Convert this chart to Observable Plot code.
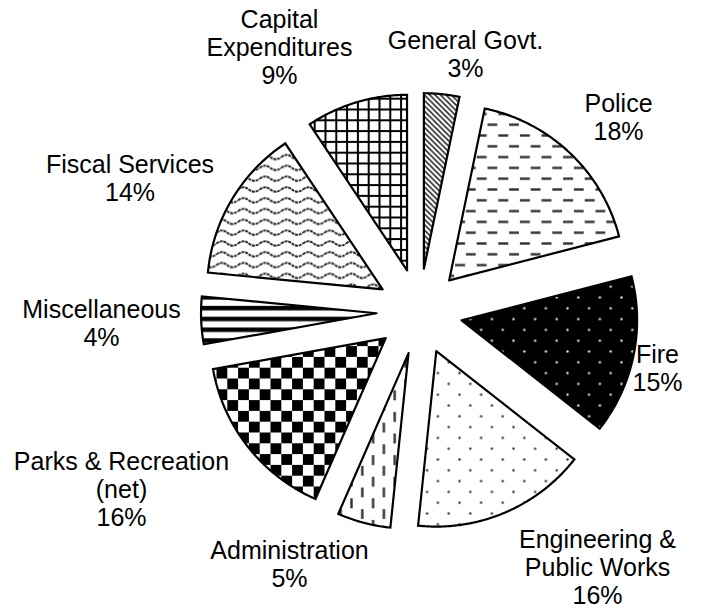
<!DOCTYPE html>
<html><head><meta charset="utf-8">
<script src="https://cdn.jsdelivr.net/npm/d3@7"></script>
<script src="https://cdn.jsdelivr.net/npm/@observablehq/plot@0.6"></script>
<style>html,body{margin:0;padding:0;background:#fff;} #chart{width:702px;height:608px;}</style>
</head><body><div id="chart"></div>
<script>
// ---- data ----
const categories = ["General Govt.", "Police", "Fire", "Engineering & Public Works", "Administration",
  "Parks & Recreation (net)", "Miscellaneous", "Fiscal Services", "Capital Expenditures"];
const shares = [3.25, 17.7, 14.6, 16.05, 4.9, 15.6, 4.35, 14.1, 9.35];
const labelLines = ["General Govt.", "Police", "Fire", "Engineering &\nPublic Works", "Administration",
  "Parks & Recreation\n(net)", "Miscellaneous", "Fiscal Services", "Capital\nExpenditures"];
const percentLabels = ["3%", "18%", "15%", "16%", "5%", "16%", "4%", "14%", "9%"];
const patternNames = ["diag", "hdash", "darkdots", "dots", "vdash", "checker", "hstripe", "wave", "grid"];

// ---- layout ----
const W = 702, H = 608, CX = 419, CY = 311, R = 175.5, EXPLODE = 43;
// label block centre offsets from pie centre (px, screen-down)
const labelOffset = [[46, -257], [199, -194], [238, 57], [178, 256], [-130, 253],
  [-298, 178], [-318, 12], [-289.5, -133], [-140, -264]];

const pie = d3.pie().sort(null).value(d => d)(shares);

const slices = pie.map((p, i) => {
  const mid = (p.startAngle + p.endAngle) / 2;
  const ox = EXPLODE * Math.sin(mid), oy = EXPLODE * Math.cos(mid);
  const n = Math.max(8, Math.ceil((p.endAngle - p.startAngle) * 180 / Math.PI * 2));
  const pts = [{x: ox, y: oy}];
  for (let k = 0; k <= n; k++) {
    const a = p.startAngle + (p.endAngle - p.startAngle) * k / n;
    pts.push({x: ox + R * Math.sin(a), y: oy + R * Math.cos(a)});
  }
  pts.push({x: ox, y: oy});
  return {name: categories[i], pattern: patternNames[i], pts};
});

const labels = categories.map((c, i) => ({
  text: labelLines[i] + "\n" + percentLabels[i],
  x: labelOffset[i][0],
  y: -labelOffset[i][1]
}));

const svg = Plot.plot({
  width: W, height: H, margin: 0,
  x: {domain: [-CX, W - CX], axis: null},
  y: {domain: [-(H - CY), CY], axis: null},
  style: {background: "#fff"},
  marks: [
    ...slices.map(s => Plot.line(s.pts, {
      x: "x", y: "y", fill: `url(#p-${s.pattern})`, stroke: "#000",
      strokeWidth: 2.2, strokeLinejoin: "miter", strokeMiterlimit: 20, curve: "linear"
    })),
    Plot.text(labels, {
      x: "x", y: "y", text: "text", fill: "#000", fontSize: 25, lineHeight: 1.12,
      fontFamily: "'Liberation Sans', Arial, sans-serif", textAnchor: "middle"
    })
  ]
});

const defs = document.createElementNS("http://www.w3.org/2000/svg", "defs");
defs.innerHTML = `
<pattern id="p-diag" patternUnits="userSpaceOnUse" width="5.4" height="5.4">
  <rect width="5.4" height="5.4" fill="#fff"/>
  <path d="M-1,-1L6.4,6.4M-1,4.4L1,6.4M4.4,-1L6.4,1" stroke="#222" stroke-width="1.5"/>
</pattern>
<pattern id="p-hdash" patternUnits="userSpaceOnUse" width="21.6" height="21.6">
  <rect width="21.6" height="21.6" fill="#fff"/>
  <rect x="1" y="4.2" width="10" height="2.4" fill="#333"/>
  <rect x="11.8" y="15" width="10" height="2.4" fill="#333"/>
</pattern>
<pattern id="p-darkdots" patternUnits="userSpaceOnUse" width="21.6" height="21.6">
  <rect width="21.6" height="21.6" fill="#000"/>
  <circle cx="5.4" cy="5.4" r="1.2" fill="#ddd"/>
  <circle cx="16.2" cy="16.2" r="1.2" fill="#ddd"/>
</pattern>
<pattern id="p-dots" patternUnits="userSpaceOnUse" width="21.6" height="21.6">
  <rect width="21.6" height="21.6" fill="#fff"/>
  <circle cx="5.4" cy="5.4" r="1.2" fill="#333"/>
  <circle cx="16.2" cy="16.2" r="1.2" fill="#333"/>
</pattern>
<pattern id="p-vdash" patternUnits="userSpaceOnUse" width="21.6" height="21.6">
  <rect width="21.6" height="21.6" fill="#fff"/>
  <rect x="4.2" y="1" width="2.4" height="10" fill="#333"/>
  <rect x="15" y="11.8" width="2.4" height="10" fill="#333"/>
</pattern>
<pattern id="p-checker" patternUnits="userSpaceOnUse" width="21.6" height="21.6">
  <rect width="21.6" height="21.6" fill="#fff"/>
  <rect width="10.8" height="10.8" fill="#000"/>
  <rect x="10.8" y="10.8" width="10.8" height="10.8" fill="#000"/>
</pattern>
<pattern id="p-hstripe" patternUnits="userSpaceOnUse" width="10.8" height="10.8">
  <rect width="10.8" height="10.8" fill="#fff"/>
  <rect y="3" width="10.8" height="4.5" fill="#000"/>
</pattern>
<pattern id="p-wave" patternUnits="userSpaceOnUse" width="21.6" height="10.8">
  <rect width="21.6" height="10.8" fill="#fff"/>
  <path d="M0,5.4 Q5.4,1 10.8,5.4 T21.6,5.4" fill="none" stroke="#222" stroke-width="1.9" stroke-dasharray="3 0.8"/>
</pattern>
<pattern id="p-grid" patternUnits="userSpaceOnUse" width="10.8" height="10.8">
  <rect width="10.8" height="10.8" fill="#fff"/>
  <rect width="10.8" height="2" fill="#000"/>
  <rect width="2" height="10.8" fill="#000"/>
</pattern>`;
svg.insertBefore(defs, svg.firstChild);
document.getElementById("chart").appendChild(svg);
</script>
</body></html>
